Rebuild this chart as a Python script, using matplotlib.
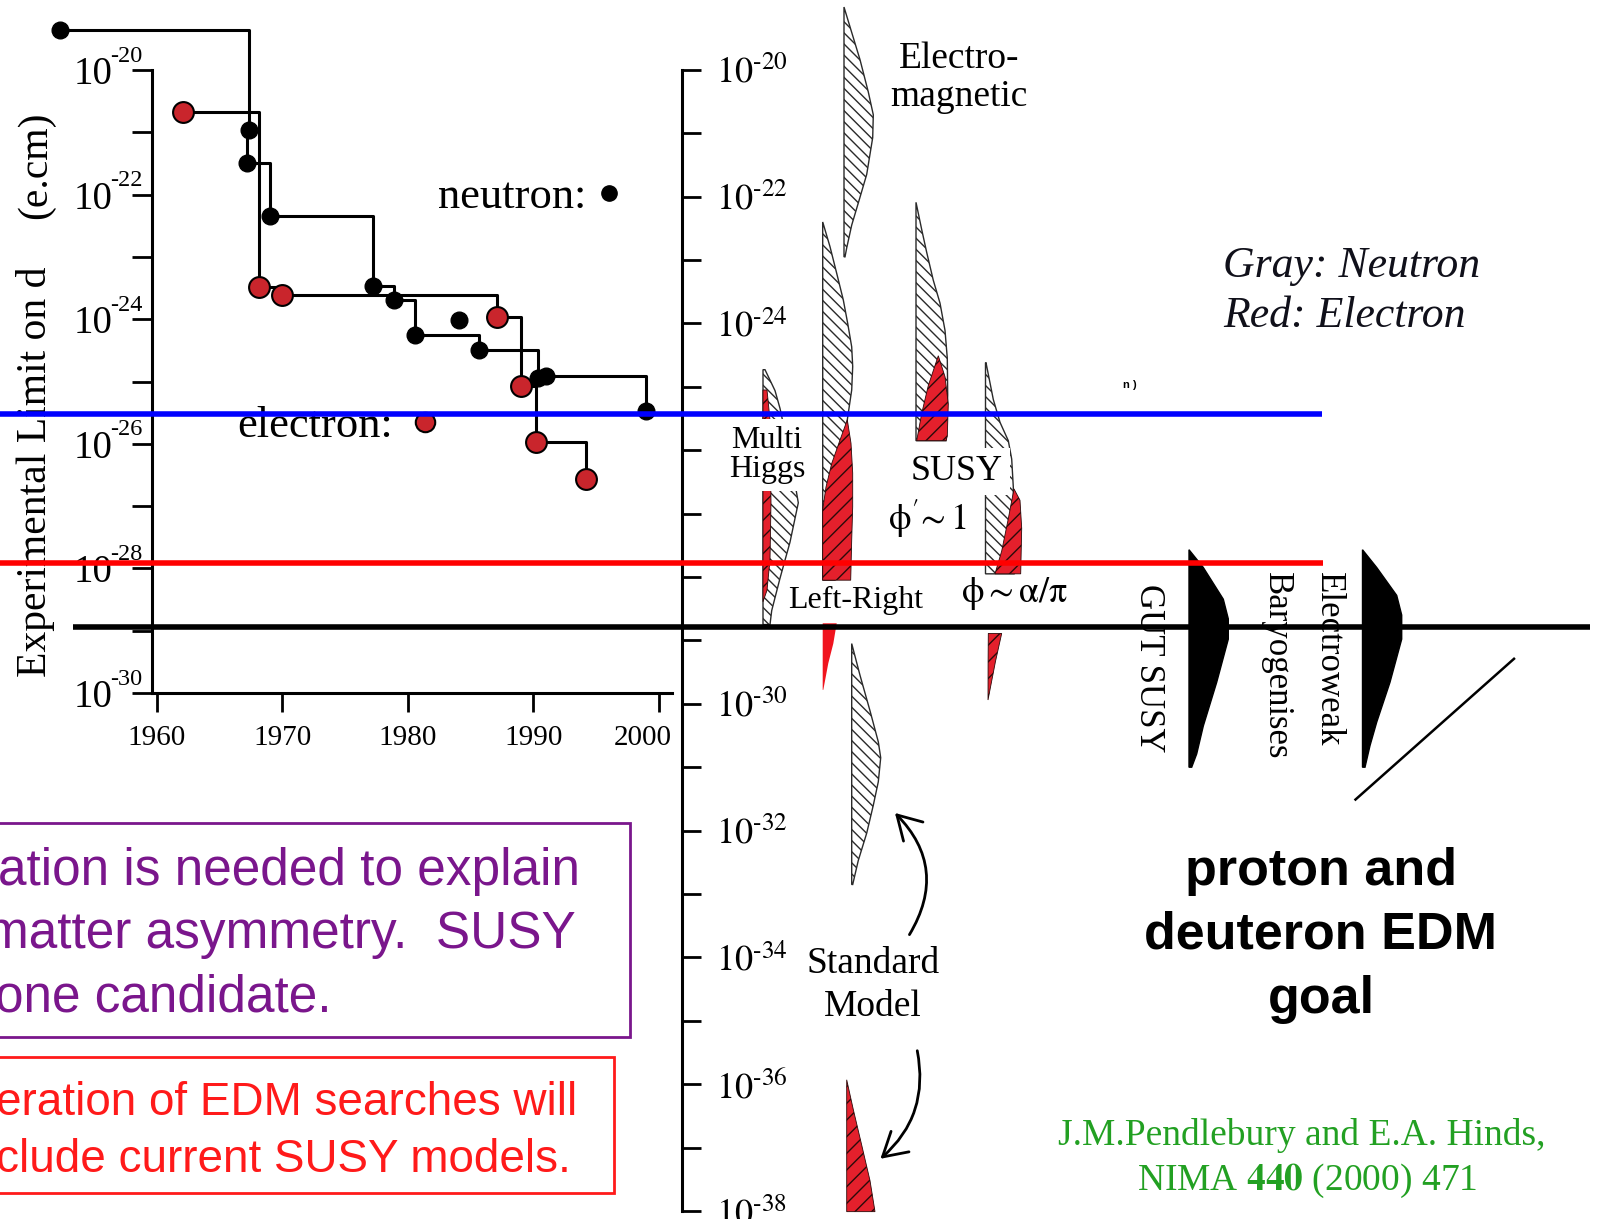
import matplotlib.pyplot as plt
import numpy as np
from matplotlib.lines import Line2D
from matplotlib.patches import Rectangle, FancyArrowPatch
from matplotlib.ticker import NullFormatter
from matplotlib.transforms import Affine2D, blended_transform_factory, ScaledTranslation

plt.rcParams['font.family'] = 'Liberation Serif'
plt.rcParams['mathtext.fontset'] = 'stix'
plt.rcParams['hatch.linewidth'] = 1.0

W, H = 1604, 1219

############ measured EDM limits (left panel), log10(d / e.cm) ############
neutron_year = [1952.3, 1967.3, 1967.2, 1969.0, 1977.2, 1978.9, 1980.6, 1985.7, 1990.4, 1991.0, 1999.0]
neutron_logd = [-19.35, -20.96, -21.49, -22.35, -23.46, -23.69, -24.26, -24.50, -24.94, -24.91, -25.47]
neutron_extra_year = [1984.1]
neutron_extra_logd = [-24.01]

electron_year = [1962.1, 1968.1, 1970.0, 1987.1, 1989.0, 1990.2, 1994.2]
electron_logd = [-20.68, -23.48, -23.61, -23.97, -25.07, -25.97, -26.57]

year_ticks = [1960, 1970, 1980, 1990, 2000]
hist_decades = list(range(-30, -19))
theory_decades = list(range(-38, -19))
theory_hidden = [-26, -28]      # labels covered in the original slide

# horizontal goal / limit lines (log10 d): blue, red, black
limit_levels = [-25.43, -27.78, -28.79]

############ theory predictions (right panel) ############
# outline of each band: log10(d) and horizontal offset (px) from its column
em_logd = [-19.01, -19.41, -19.84, -20.35, -20.71, -21.07, -21.65, -22.01, -22.45, -22.81, -22.95, -22.95]
em_off = [0, 7.7, 16, 24.3, 29.3, 28.7, 22.7, 16, 7.7, 2.7, 1, 0]

lr_n_logd = [-22.40, -22.79, -23.21, -23.63, -24.00, -24.37, -24.68, -25.05, -25.52, -25.84, -26.47, -27.10, -27.73, -28.05, -28.05]
lr_n_off = [0, 7.3, 14, 20.6, 25, 29, 30, 29, 24.6, 24.3, 22.3, 19.3, 15.3, 12.3, 0]
lr_e_logd = [-25.52, -25.89, -26.36, -26.89, -27.42, -28.05, -28.05, -26.94, -26.58, -26.21, -25.84]
lr_e_off = [24.6, 28.3, 30, 30, 29, 28, 0, 0, 3.3, 9, 17.3]
lr_tail_logd = [-28.73, -28.73, -29.05, -29.36, -29.78, -29.78]
lr_tail_off = [0, 14, 10.6, 5.6, 0.6, 0]

mh_n_logd = [-24.73, -24.73, -25.06, -25.34, -26.16, -26.83, -27.45, -28.02, -28.53, -28.75, -28.75]
mh_n_off = [0, 2, 12, 17, 28, 35.3, 27, 17, 8.7, 7, 0]
mh_e_logd = [-25.05, -25.05, -25.52, -26.82, -27.73, -28.21, -28.39]
mh_e_off = [0, 4, 7, 8, 7, 4, 0]

susy1_n_logd = [-22.09, -22.52, -22.88, -23.32, -23.68, -24.11, -24.55, -25.13, -25.85, -25.85]
susy1_n_off = [0, 5.7, 10.7, 17.3, 24, 29, 31.3, 31.7, 30, 0]
susy1_e_logd = [-24.51, -24.84, -25.27, -25.78, -25.85, -25.85, -25.42, -24.98]
susy1_e_off = [22.3, 29, 32.3, 31.3, 30, 0.7, 5.7, 12.3]

susy2_n_logd = [-24.62, -24.62, -25.20, -25.56, -25.85, -26.14, -26.58, -27.95, -27.95]
susy2_n_off = [0, 0.5, 7.8, 14.5, 22.8, 26.2, 27.8, 29, 0]
susy2_e_logd = [-26.61, -26.79, -27.23, -27.95, -27.95, -27.59, -27.08]
susy2_e_off = [28.5, 34.5, 36.2, 35.2, 9.5, 16.2, 22.8]
susy2_tail_logd = [-28.89, -28.89, -29.33, -29.94, -29.33]
susy2_tail_off = [2.8, 16.2, 10, 2.5, 2.6]

sm_n_logd = [-29.05, -29.55, -30.11, -30.60, -30.85, -31.23, -31.60, -32.04, -32.47, -32.85, -32.85]
sm_n_off = [0, 8.3, 18.3, 26.6, 29, 26.6, 21.6, 15, 6.6, 1, 0]
sm_e_logd = [-35.93, -36.40, -36.96, -37.52, -38.01, -38.01]
sm_e_off = [0, 6.6, 15, 23.3, 28.3, 0]

gut_logd = [-27.57, -27.85, -28.35, -28.66, -28.98, -29.66, -30.35, -30.79, -31.00, -31.00]
gut_off = [0, 14.3, 34.3, 39.3, 39.3, 27.7, 14.3, 7.7, 2.7, 0]
ew_logd = [-27.57, -27.85, -28.29, -28.60, -28.98, -29.66, -30.29, -30.66, -31.00, -31.00]
ew_off = [0, 14.2, 34.2, 39.2, 39.2, 27.5, 14.2, 7.5, 2.5, 0]

diag_x = [1355.5, 1514]
diag_logd = [-31.51, -29.29]


def dec_label(e):
    # superscript with a short hyphen like the scanned figure
    return '$10^{' + '\u2010' + str(-e) + '}$'


fig = plt.figure(figsize=(W / 100, H / 100), dpi=100)
fig.patch.set_facecolor('white')
# pixel coords measured from the top-left of the slide
px = Affine2D().scale(1 / W, -1 / H).translate(0, 1) + fig.transFigure

red_dot = '#c9252c'
gray_kw = dict(facecolor='white', edgecolor='#2a2a2a', hatch='\\\\\\', lw=1.0)
red_kw = dict(facecolor='#e4202c', edgecolor='#2b0a0a', hatch='//', lw=0.6)

############### left panel: history of the limits ###############
ax_h = fig.add_axes([152 / W, 1 - 693 / H, 520 / W, 693 / H])
ax_h.set_zorder(1)
ax_h.patch.set_alpha(0)
ax_h.set_yscale('log')
ax_h.set_xlim(1959.6, 2001.07)
ax_h.set_ylim(1e-30, 10 ** -18.876)
for s in ['top', 'right']:
    ax_h.spines[s].set_visible(False)
ax_h.spines['left'].set_bounds(1e-30, 1e-20)
ax_h.spines['left'].set_linewidth(2.2)
ax_h.spines['bottom'].set_linewidth(2.2)

ax_h.plot(neutron_year, 10.0 ** np.array(neutron_logd), drawstyle='steps-post',
          color='k', lw=2.2, clip_on=False, zorder=2)
ax_h.plot(neutron_year + neutron_extra_year, 10.0 ** np.array(neutron_logd + neutron_extra_logd),
          ls='none', marker='o', ms=12, color='k', clip_on=False, zorder=3)
ax_h.plot(electron_year, 10.0 ** np.array(electron_logd), drawstyle='steps-post',
          color='k', lw=2.2, clip_on=False, zorder=2)
ax_h.plot(electron_year, 10.0 ** np.array(electron_logd), ls='none', marker='o', ms=15,
          mfc=red_dot, mec='k', mew=1.5, clip_on=False, zorder=3)

major = [e for e in hist_decades if e % 2 == 0]
minor = [e for e in hist_decades if e % 2 != 0]
# the scanned axis writes "10" with a small raised exponent next to it
ax_h.set_yticks([10.0 ** e for e in major], labels=['10'] * len(major))
ax_h.set_yticks([10.0 ** e for e in minor], minor=True)
ax_h.yaxis.set_minor_formatter(NullFormatter())
ax_h.tick_params(axis='y', which='both', direction='out', length=14.4, width=2, pad=14, labelsize=28)
exp_trans = blended_transform_factory(px, ax_h.transData)
for e in major:
    ax_h.annotate('\u2010' + str(-e), xy=(110, 10.0 ** e), xycoords=exp_trans,
                  xytext=(0, 6), textcoords='offset points', ha='left', va='baseline',
                  fontsize=17.5, annotation_clip=False)
ax_h.set_xticks(year_ticks, labels=[str(y) for y in year_ticks])
ax_h.tick_params(axis='x', direction='out', length=13.7, width=2, pad=9, labelsize=21)
# last year label sits left of its tick in the slide
last = ax_h.xaxis.get_major_ticks()[-1].label1
last.set_transform(last.get_transform() + ScaledTranslation(-0.16, 0, fig.dpi_scale_trans))

n_key = Line2D([], [], ls='none', marker='o', ms=11, color='k')
e_key = Line2D([], [], ls='none', marker='o', ms=14, mfc=red_dot, mec='k', mew=1.5)
leg_font = {'family': 'Liberation Serif', 'size': 32}
leg1 = ax_h.legend([n_key], ['neutron:'], loc='center left', bbox_to_anchor=(438, 197),
                   bbox_transform=px, markerfirst=False, frameon=False, handlelength=0.6,
                   handletextpad=0.2, borderpad=0, borderaxespad=0, prop=leg_font)
ax_h.add_artist(leg1)
ax_h.legend([e_key], ['electron:'], loc='center left', bbox_to_anchor=(237, 426),
            bbox_transform=px, markerfirst=False, frameon=False, handlelength=0.75,
            handletextpad=0.35, borderpad=0, borderaxespad=0, prop=leg_font)

############### right panel: theory scale ###############
y_lim = (10 ** -38.126, 10 ** -18.899)
ax_t = fig.add_axes([682 / W, 0, (W - 682) / W, 1])
ax_t.set_zorder(2)
ax_t.patch.set_alpha(0)
ax_t.set_yscale('log')
ax_t.set_ylim(*y_lim)
ax_t.set_xticks([])
for s in ['top', 'bottom', 'left']:
    ax_t.spines[s].set_visible(False)
ax_t.spines['right'].set_position(('axes', 0.0))
ax_t.spines['right'].set_bounds(1e-38, 1e-20)
ax_t.spines['right'].set_linewidth(2.2)
ax_t.yaxis.tick_right()
t_major = [e for e in theory_decades if e % 2 == 0]
t_minor = [e for e in theory_decades if e % 2 != 0]
ax_t.set_yticks([10.0 ** e for e in t_major],
                labels=['' if e in theory_hidden else dec_label(e) for e in t_major])
ax_t.set_yticks([10.0 ** e for e in t_minor], minor=True)
ax_t.yaxis.set_minor_formatter(NullFormatter())
ax_t.tick_params(axis='y', which='both', direction='out', length=13.7, width=2, pad=10.8, labelsize=26)

############### overlay: bands, lines, notes ###############
ax_o = fig.add_axes([0, 0, 1, 1])
ax_o.set_zorder(3)
ax_o.set_yscale('log')
ax_o.set_ylim(*y_lim)
ax_o.set_xlim(0, W)
ax_o.axis('off')


def band(col, logd, off, z, **kw):
    ax_o.fill(col + np.array(off), 10.0 ** np.array(logd), zorder=z, **kw)


band(844, em_logd, em_off, 2, **gray_kw)
band(822.7, lr_n_logd, lr_n_off, 2, **gray_kw)
band(822.7, lr_e_logd, lr_e_off, 3, **red_kw)
band(822.7, lr_tail_logd, lr_tail_off, 3, facecolor='#f0141e', edgecolor='none')
band(763, mh_n_logd, mh_n_off, 2, **gray_kw)
band(763, mh_e_logd, mh_e_off, 3, **red_kw)
band(916, susy1_n_logd, susy1_n_off, 2, **gray_kw)
band(916, susy1_e_logd, susy1_e_off, 3, **red_kw)
band(985.5, susy2_n_logd, susy2_n_off, 2, **gray_kw)
band(985.5, susy2_e_logd, susy2_e_off, 3, **red_kw)
band(985.5, susy2_tail_logd, susy2_tail_off, 3, **red_kw)
band(851.7, sm_n_logd, sm_n_off, 2, **gray_kw)
band(846.7, sm_e_logd, sm_e_off, 3, **red_kw)
band(1189, gut_logd, gut_off, 3, facecolor='k', edgecolor='k', lw=1)
band(1362.5, ew_logd, ew_off, 3, facecolor='k', edgecolor='k', lw=1)
ax_o.plot(diag_x, 10.0 ** np.array(diag_logd), color='k', lw=1.8, zorder=3)

# limit lines across the slide
ax_o.plot([0, 1322], [10.0 ** limit_levels[0]] * 2, color='#0000ff', lw=4, solid_capstyle='butt', zorder=10)
ax_o.plot([0, 1323], [10.0 ** limit_levels[1]] * 2, color='#ff0000', lw=4, solid_capstyle='butt', zorder=10)
ax_o.plot([73, 1590], [10.0 ** limit_levels[2]] * 2, color='k', lw=4, solid_capstyle='butt', zorder=10)

# arrows from "Standard Model"
ax_o.add_patch(FancyArrowPatch((908, 937), (893, 811), transform=px, connectionstyle='arc3,rad=0.4',
                               arrowstyle='->,head_length=0.6,head_width=0.35', mutation_scale=28,
                               lw=2, color='k', zorder=5))
ax_o.add_patch(FancyArrowPatch((916.7, 1048), (878.3, 1160.6), transform=px, connectionstyle='arc3,rad=-0.3',
                               arrowstyle='->,head_length=0.6,head_width=0.35', mutation_scale=28,
                               lw=2, color='k', zorder=5))

wbox = dict(boxstyle='square,pad=0.2', fc='white', ec='none')


def note(x, y, s, size, **kw):
    kw.setdefault('ha', 'center')
    kw.setdefault('va', 'baseline')
    kw.setdefault('zorder', 6)
    ax_o.text(x, y, s, transform=px, fontsize=size, **kw)


note(36, 472, 'Experimental Limit on d', 30, rotation=90, va='center')
note(36, 165, '(e.cm)', 30, rotation=90, va='center')

note(959, 68, 'Electro-', 27)
note(959, 105.6, 'magnetic', 27)
note(767, 447.6, 'Multi', 23, bbox=wbox)
note(767.5, 477.5, 'Higgs', 23, bbox=wbox)
note(855.7, 608, 'Left-Right', 23)
note(956.7, 479.8, 'SUSY', 26, bbox=wbox)
note(928, 530.3, r"$\mathrm{\phi}^{\prime}\!\sim 1$", 26)
note(1014, 601.5, r'$\mathrm{\phi}\sim\mathrm{\alpha}/\mathrm{\pi}$', 26)
note(873, 973, 'Standard', 27)
note(873, 1016.5, 'Model', 27)
note(1148.3, 583.6, 'GUT SUSY', 25, rotation=270, va='top')
note(1328, 571.7, 'Electroweak', 25, rotation=270, va='top')
note(1276.7, 571.7, 'Baryogenises', 25, rotation=270, va='top')
note(1130, 388, 'n )', 8, weight='bold', family='Liberation Sans')

note(1223, 277, 'Gray: Neutron', 31.5, ha='left', style='italic', color='#10101a')
note(1223, 327.3, 'Red: Electron', 31.5, ha='left', style='italic', color='#10101a')

for yb, s in zip([885, 948.3, 1013.3], ['proton and', 'deuteron EDM', 'goal']):
    note(1321, yb, s, 37.5, weight='bold', family='Liberation Sans')

green = '#22a022'
note(1302, 1145, 'J.M.Pendlebury and E.A. Hinds,', 27, color=green)
note(1307, 1190, r'NIMA $\mathbf{440}$ (2000) 471', 27, color=green)

purple = '#7a168c'
ax_o.add_patch(Rectangle((-10, 822.7), 639.7, 214.6, transform=px, fill=True, fc='white',
                         ec=purple, lw=2, zorder=5))
for x0, yb, s in zip([-2, -14, -5], [885, 948.3, 1011.7],
                     ['ation is needed to explain', 'matter asymmetry.  SUSY', 'one candidate.']):
    note(x0, yb, s, 37, ha='left', color=purple, family='Liberation Sans')

ax_o.add_patch(Rectangle((-10, 1057.3), 623.6, 136, transform=px, fill=True, fc='white',
                         ec='#ff1a1a', lw=2, zorder=5))
for x0, yb, s in zip([-4, -4], [1115, 1171.7],
                     ['eration of EDM searches will', 'clude current SUSY models.']):
    note(x0, yb, s, 33, ha='left', color='#ff1a1a', family='Liberation Sans')

fig.savefig('out.png', dpi=100)
